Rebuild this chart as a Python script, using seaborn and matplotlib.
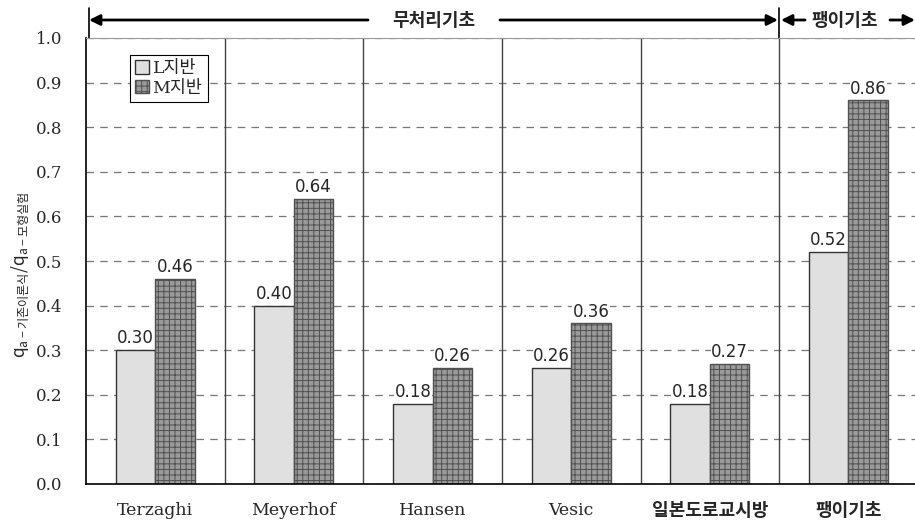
import numpy as np
import pandas as pd
import matplotlib
matplotlib.use("Agg")
import matplotlib.pyplot as plt
import seaborn as sns

categories = ['Terzaghi', 'Meyerhof', 'Hansen', 'Vesic', '일본도로교시방', '팽이기초']
l_vals = [0.30, 0.40, 0.18, 0.26, 0.18, 0.52]
m_vals = [0.46, 0.64, 0.26, 0.36, 0.27, 0.86]
series = ['L지반', 'M지반']
yticks = np.arange(0, 1.01, 0.1)

df = pd.DataFrame({
    'cat': categories * 2,
    'val': l_vals + m_vals,
    'ground': [series[0]] * len(categories) + [series[1]] * len(categories),
})

sns.set_style("white")
plt.rcParams['font.family'] = ['DejaVu Serif', 'Noto Sans CJK KR']
plt.rcParams['mathtext.fontset'] = 'custom'
plt.rcParams['mathtext.rm'] = 'Noto Sans CJK KR'
plt.rcParams['mathtext.it'] = 'Noto Sans CJK KR'
plt.rcParams['hatch.linewidth'] = 0.7

fig = plt.figure(figsize=(9.15, 5.24), dpi=100)
ax = fig.add_axes([86 / 915, 40 / 524, 829 / 915, 446 / 524])

sns.barplot(data=df, x='cat', y='val', hue='ground', order=categories,
            hue_order=series, palette=['#e0e0e0', '#9a9a9a'], width=0.57,
            edgecolor='#333333', linewidth=1.0, saturation=1, ax=ax, legend=False)

for p in ax.containers[1]:
    p.set_hatch('+++')
    p.set_edgecolor('#505050')

for cont in ax.containers:
    texts = ax.bar_label(cont, fmt='%.2f', padding=2, fontsize=12,
                         family=['DejaVu Sans'])
    for t in texts:
        t.set_bbox(dict(facecolor='white', edgecolor='none', pad=0.3))

ax.set_xlim(-0.5, 5.48)
ax.set_ylim(0, 1.0)
ax.set_yticks(yticks)
ax.set_yticklabels([f"{v:.1f}" for v in yticks], fontsize=12)
ax.tick_params(axis='y', direction='in', length=4, pad=17, color='black')
ax.tick_params(axis='x', length=0, pad=13, labelsize=12.5)
for lbl in ax.get_xticklabels():
    if not lbl.get_text().isascii():
        lbl.set_fontweight('bold')
        lbl.set_fontsize(13)
ax.set_xlabel('')
ax.set_ylabel(r'$\mathrm{q}_{\mathrm{a-기존이론식}}/\mathrm{q}_{\mathrm{a-모형실험}}$',
              fontsize=12.5)
ax.yaxis.set_label_coords(-0.066, 0.47)

ax.yaxis.grid(True, linestyle=(0, (6, 5)), color='#777777', lw=0.9)
ax.set_axisbelow(True)
for x in np.arange(0.5, len(categories) - 1, 1):
    ax.axvline(x, color='#444444', lw=1.0, zorder=1)

ax.spines['right'].set_visible(False)
ax.spines['top'].set_color('#999999')
ax.spines['top'].set_linewidth(0.8)
for s in ['left', 'bottom']:
    ax.spines[s].set_color('black')
    ax.spines[s].set_linewidth(1.2)

handles = [ax.containers[0][0], ax.containers[1][0]]
leg = ax.legend(handles, series, loc='upper left', bbox_to_anchor=(0.053, 0.962),
                prop={'size': 12.5}, handlelength=0.8,
                handleheight=0.8, handletextpad=0.2, borderpad=0.3,
                labelspacing=0.15, fancybox=False, framealpha=1,
                edgecolor='black', borderaxespad=0)
leg.get_frame().set_linewidth(0.8)


def fx(px):
    return (px - 86) / 829


def fy(py):
    return (484 - py) / 446


arrow = dict(arrowstyle='-|>', lw=2.0, color='black', mutation_scale=16,
             shrinkA=0, shrinkB=0)
ax.annotate('', xy=(fx(89), fy(20)), xytext=(fx(368), fy(20)),
            xycoords='axes fraction', arrowprops=arrow, annotation_clip=False)
ax.annotate('', xy=(fx(778), fy(20)), xytext=(fx(500), fy(20)),
            xycoords='axes fraction', arrowprops=arrow, annotation_clip=False)
ax.annotate('', xy=(fx(781), fy(20)), xytext=(fx(805), fy(20)),
            xycoords='axes fraction', arrowprops=arrow, annotation_clip=False)
ax.annotate('', xy=(fx(915), fy(20)), xytext=(fx(890), fy(20)),
            xycoords='axes fraction', arrowprops=arrow, annotation_clip=False)
for px in [89, 779]:
    ax.plot([fx(px), fx(px)], [fy(8), fy(38)], transform=ax.transAxes,
            clip_on=False, color='black', lw=1.2)
ax.text(fx(434), fy(20), '무처리기초', transform=ax.transAxes, ha='center',
        va='center', fontsize=13, fontweight='bold', family=['Noto Sans CJK KR'])
ax.text(fx(845), fy(20), '팽이기초', transform=ax.transAxes, ha='center',
        va='center', fontsize=13, fontweight='bold', family=['Noto Sans CJK KR'])

fig.savefig('out.png', dpi=100)
